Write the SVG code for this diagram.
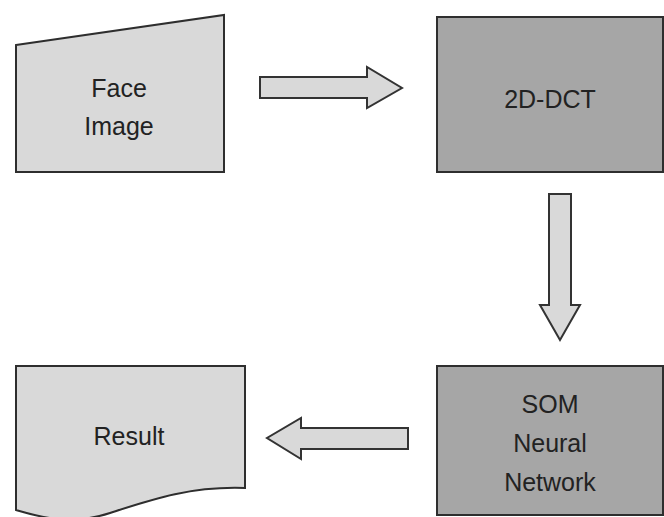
<svg xmlns="http://www.w3.org/2000/svg" width="664" height="517" viewBox="0 0 664 517">
  <style>
    .light { fill: #d9d9d9; stroke: #2e2e2e; stroke-width: 2; stroke-linejoin: miter; }
    .dark { fill: #a6a6a6; stroke: #2e2e2e; stroke-width: 2; }
    .arrow { fill: #d9d9d9; stroke: #333333; stroke-width: 2; stroke-linejoin: miter; }
    .label { font-family: "Liberation Sans", Arial, sans-serif; font-size: 25px; fill: #222222; text-anchor: middle; }
  </style>
  <rect width="664" height="517" fill="#ffffff"/>

  <!-- manual input shape -->
  <g id="face-image">
    <polygon class="light" points="16,45 224,15 224,172 16,172"/>
    <text class="label" x="119" y="97">Face</text>
    <text class="label" x="119" y="135">Image</text>
  </g>

  <!-- process box -->
  <g id="dct">
    <rect class="dark" x="437" y="17" width="226" height="155"/>
    <text class="label" x="550" y="108">2D-DCT</text>
  </g>

  <!-- network box -->
  <g id="som">
    <rect class="dark" x="437" y="366" width="226" height="149"/>
    <text class="label" x="550" y="413">SOM</text>
    <text class="label" x="550" y="452">Neural</text>
    <text class="label" x="550" y="491">Network</text>
  </g>

  <!-- document shape -->
  <g id="result">
    <path class="light" d="M16,366 H245 V488 C190,486 150,500 110,513 C70,526 40,517 16,510 Z"/>
    <text class="label" x="129" y="445">Result</text>
  </g>

  <!-- block arrows between steps -->
  <g id="connectors">
    <polygon class="arrow" points="260,77 367,77 367,67 402,88 367,108 367,98 260,98"/>
    <polygon class="arrow" points="549,194 571,194 571,305 580,305 560,340 540,305 549,305"/>
    <polygon class="arrow" points="408,428 301,428 301,418 267,438 301,459 301,449 408,449"/>
  </g>
</svg>
